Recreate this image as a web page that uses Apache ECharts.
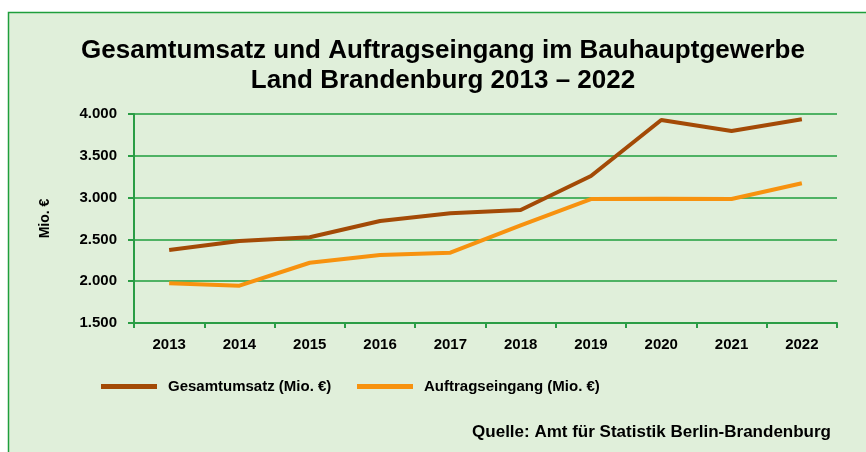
<!DOCTYPE html>
<html>
<head>
<meta charset="utf-8">
<script src="https://cdn.jsdelivr.net/npm/echarts@6/dist/echarts.min.js"></script>
<style>
  html, body { margin: 0; padding: 0; background: #fff; }
  #main { width: 866px; height: 452px; }
</style>
</head>
<body>
<div id="main"></div>
<script>
// Jahre
var jahre = ['2013', '2014', '2015', '2016', '2017', '2018', '2019', '2020', '2021', '2022'];
// Werte in Mio. €
var gesamtumsatz = [2373, 2481, 2525, 2720, 2812, 2852, 3258, 3928, 3797, 3937];
var auftragseingang = [1975, 1946, 2221, 2313, 2341, 2668, 2983, 2985, 2984, 3171];

var gruen = '#2a9d45';
var schrift = '"Liberation Sans", Arial, sans-serif';

var chart = echarts.init(document.getElementById('main'));

var legendeText = {
    fontFamily: schrift,
    fontWeight: 'bold',
    fontSize: 15,
    color: '#000',
    padding: [0, 0, 0, 6]
};

var option = {
    backgroundColor: '#ffffff',
    animation: false,
    graphic: [{
        type: 'rect',
        z: -10,
        shape: { x: 8.5, y: 12.5, width: 880, height: 460 },
        style: { fill: '#e0efda', stroke: '#1f9e3c', lineWidth: 1.5 }
    }],
    title: [{
        text: 'Gesamtumsatz und Auftragseingang im Bauhauptgewerbe\nLand Brandenburg 2013 \u2013 2022',
        left: 438,
        textAlign: 'center',
        top: 31,
        textStyle: {
            fontFamily: schrift,
            fontWeight: 'bold',
            fontSize: 26,
            lineHeight: 30,
            color: '#000'
        }
    }, {
        text: 'Quelle: Amt für Statistik Berlin-Brandenburg',
        right: 30,
        top: 419,
        textStyle: {
            fontFamily: schrift,
            fontWeight: 'bold',
            fontSize: 17,
            color: '#000'
        }
    }],
    // zwei Legenden, damit jede an ihrer Stelle steht
    legend: [{
        left: 96,
        top: 374,
        itemWidth: 56,
        itemHeight: 5,
        icon: 'rect',
        data: ['Gesamtumsatz (Mio. €)'],
        textStyle: legendeText
    }, {
        left: 352,
        top: 374,
        itemWidth: 56,
        itemHeight: 5,
        icon: 'rect',
        data: ['Auftragseingang (Mio. €)'],
        textStyle: legendeText
    }],
    grid: { left: 134, right: 29, top: 114, bottom: 129 },
    xAxis: {
        type: 'category',
        data: jahre,
        boundaryGap: true,
        axisLine: { lineStyle: { color: gruen, width: 2 } },
        axisTick: { show: true, length: 5, lineStyle: { color: gruen, width: 2 } },
        axisLabel: {
            margin: 14,
            fontFamily: schrift,
            fontWeight: 'bold',
            fontSize: 15,
            color: '#000'
        }
    },
    yAxis: {
        type: 'value',
        min: 1500,
        max: 4000,
        interval: 500,
        name: 'Mio. €',
        nameLocation: 'middle',
        nameGap: 82,
        nameTextStyle: {
            fontFamily: schrift,
            fontWeight: 'bold',
            fontSize: 14,
            color: '#000'
        },
        axisLine: { show: true, lineStyle: { color: gruen, width: 2 } },
        axisTick: { show: true, length: 6, lineStyle: { color: gruen, width: 2 } },
        splitLine: { lineStyle: { color: '#1f9e3c', width: 1.5 } },
        axisLabel: {
            margin: 17,
            fontFamily: schrift,
            fontWeight: 'bold',
            fontSize: 15,
            color: '#000',
            formatter: function (v) {
                return String(v).replace(/\B(?=(\d{3})+(?!\d))/g, '.');
            }
        }
    },
    series: [{
        name: 'Gesamtumsatz (Mio. €)',
        type: 'line',
        data: gesamtumsatz,
        showSymbol: false,
        color: '#a34a06',
        lineStyle: { width: 4, color: '#a34a06' }
    }, {
        name: 'Auftragseingang (Mio. €)',
        type: 'line',
        data: auftragseingang,
        showSymbol: false,
        color: '#f7920f',
        lineStyle: { width: 4, color: '#f7920f' }
    }]
};

chart.setOption(option);
</script>
</body>
</html>
